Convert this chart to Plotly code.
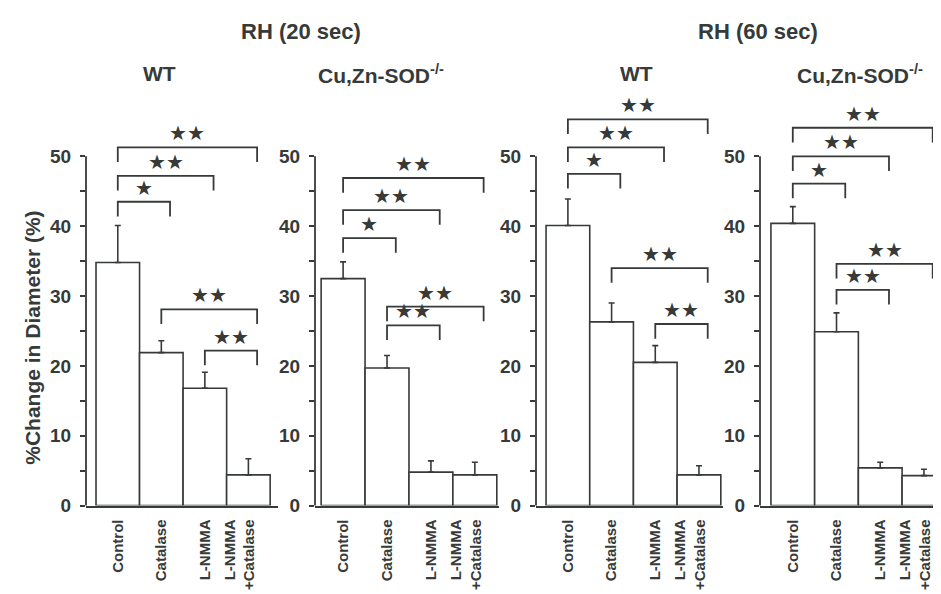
import plotly.graph_objects as go

# ---------------- data ----------------
categories = ["Control", "Catalase", "L-NMMA", "L-NMMA<br>+Catalase"]
group_titles = ["RH (20 sec)", "RH (60 sec)"]
panel_titles = ["WT", "Cu,Zn-SOD<sup>-/-</sup>", "WT", "Cu,Zn-SOD<sup>-/-</sup>"]
y_title = "%Change in Diameter (%)"

mean_20_wt = [34.8, 21.9, 16.8, 4.4]
upper_20_wt = [40.1, 23.6, 19.1, 6.7]
mean_20_ko = [32.5, 19.7, 4.8, 4.4]
upper_20_ko = [34.9, 21.5, 6.4, 6.2]
mean_60_wt = [40.1, 26.3, 20.5, 4.4]
upper_60_wt = [43.9, 29.0, 22.9, 5.7]
mean_60_ko = [40.4, 24.9, 5.4, 4.3]
upper_60_ko = [42.8, 27.6, 6.2, 5.2]

# significance brackets: (from bar, to bar, height, label)
sig_20_wt = [(0, 1, 43.5, "*"), (0, 2, 47.2, "**"), (0, 3, 51.3, "**"), (1, 3, 28.1, "**"), (2, 3, 22.2, "**")]
sig_20_ko = [(0, 1, 38.3, "*"), (0, 2, 42.3, "**"), (0, 3, 46.9, "**"), (1, 3, 28.5, "**"), (1, 2, 25.8, "**")]
sig_60_wt = [(0, 1, 47.5, "*"), (0, 2, 51.3, "**"), (0, 3, 55.3, "**"), (1, 3, 34.0, "**"), (2, 3, 26.0, "**")]
sig_60_ko = [(0, 1, 46.1, "*"), (0, 2, 50.0, "**"), (0, 3, 54.1, "**"), (1, 3, 34.6, "**"), (1, 2, 30.9, "**")]

means = [mean_20_wt, mean_20_ko, mean_60_wt, mean_60_ko]
uppers = [upper_20_wt, upper_20_ko, upper_60_wt, upper_60_ko]
sigs = [sig_20_wt, sig_20_ko, sig_60_wt, sig_60_ko]

y_major = [0, 10, 20, 30, 40, 50]
y_minor = [5, 15, 25, 35, 45]

# ---------------- style ----------------
W, H = 941, 594
INK = "#363a39"
FONT = "Liberation Sans, Arial, Helvetica, sans-serif"
x_px = [(78, 270), (307, 491), (528, 715), (752, 940)]
x_ranges = [(-0.73, 3.68), (-0.64, 3.55), (-0.73, 3.55), (-0.75, 3.55)]
label_pos = [0, 1, 2, 2.8]
y_bottom_px, y_top_px = 507, 80
Y_MAX = 60

fig = go.Figure()
layout = dict(
    width=W, height=H, margin=dict(l=0, r=0, t=0, b=0),
    paper_bgcolor="white", plot_bgcolor="white", showlegend=False,
    font=dict(family=FONT, color=INK, weight="bold"),
)
annotations = []
shapes = []

for p in range(4):
    sx = "" if p == 0 else str(p + 1)
    xa, ya = "x" + sx, "y" + sx
    xs = list(range(len(categories)))
    err = [u - m for u, m in zip(uppers[p], means[p])]
    fig.add_trace(go.Bar(
        x=xs, y=means[p], width=1.0, xaxis=xa, yaxis=ya,
        marker=dict(color="white", line=dict(color=INK, width=1.6)),
        error_y=dict(type="data", symmetric=False, array=err,
                     arrayminus=[0] * 4, color=INK, thickness=1.6, width=3),
        hoverinfo="skip",
    ))
    for (i, j, h, lab) in sigs[p]:
        xl, xr = i, j + 0.2
        fig.add_trace(go.Scatter(
            x=[xl, xl, xr, xr], y=[h - 2.1, h, h, h - 2.1], mode="lines",
            line=dict(color=INK, width=1.8), xaxis=xa, yaxis=ya, hoverinfo="skip",
        ))
        annotations.append(dict(
            x=(xl + xr) / 2, y=h + 2.0, xref=xa, yref=ya, showarrow=False,
            text=lab.replace("*", "★"), yanchor="middle",
            font=dict(family="DejaVu Sans", size=20, color=INK),
        ))
    x0, x1 = x_px[p]
    layout["xaxis" + sx] = dict(
        domain=[x0 / W, x1 / W], range=list(x_ranges[p]), anchor=ya,
        tickvals=label_pos, ticktext=categories, tickangle=-90, ticks="",
        showline=True, linecolor=INK, linewidth=1.8, showgrid=False, zeroline=False,
        tickfont=dict(size=15, family=FONT, color=INK, weight="bold"),
        ticklabelstandoff=6, fixedrange=True,
    )
    layout["yaxis" + sx] = dict(
        domain=[1 - y_bottom_px / H, 1 - y_top_px / H], range=[0, Y_MAX], anchor=xa,
        tickvals=y_major, ticks="outside", ticklen=5, tickwidth=1.6, tickcolor=INK,
        minor=dict(tickvals=y_minor, ticks="outside", ticklen=5, tickwidth=1.6,
                   tickcolor=INK, showgrid=False),
        showline=False, showgrid=False, zeroline=False,
        tickfont=dict(size=19, family=FONT, color=INK, weight="bold"),
        ticklabelstandoff=5, fixedrange=True,
    )
    shapes.append(dict(
        type="line", xref=xa + " domain", yref=ya + " domain",
        x0=0, x1=0, y0=0, y1=50 / Y_MAX, line=dict(color=INK, width=1.8),
    ))

# titles
title_pos = [(151, 67), (373, 67), (628, 67), (852, 67)]
for t, (px, py) in zip(panel_titles, title_pos):
    annotations.append(dict(x=px / W, y=1 - py / H, xref="paper", yref="paper",
                            text=t, showarrow=False, xanchor="center", yanchor="middle",
                            font=dict(size=21, family=FONT, color=INK, weight="bold")))
for t, (px, py) in zip(group_titles, [(293, 24), (750, 24)]):
    annotations.append(dict(x=px / W, y=1 - py / H, xref="paper", yref="paper",
                            text=t, showarrow=False, xanchor="center", yanchor="middle",
                            font=dict(size=22, family=FONT, color=INK, weight="bold")))
annotations.append(dict(x=25 / W, y=1 - 336 / H, xref="paper", yref="paper",
                        text=y_title, showarrow=False, textangle=-90,
                        xanchor="center", yanchor="middle",
                        font=dict(size=21, family=FONT, color=INK, weight="bold")))

layout["annotations"] = annotations
layout["shapes"] = shapes
fig.update_layout(**layout)
fig.write_html("out.html")
